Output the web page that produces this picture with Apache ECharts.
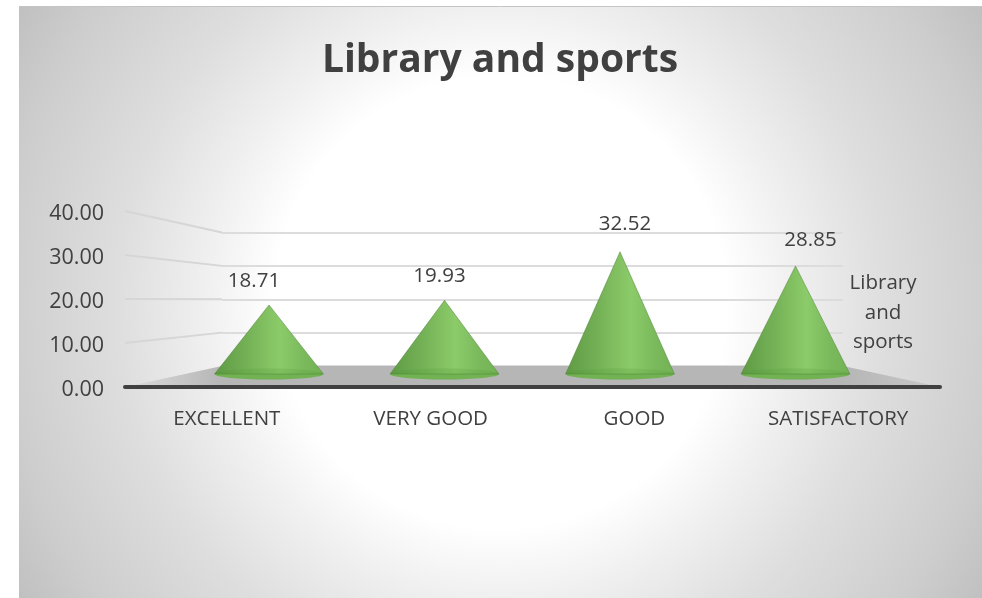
<!DOCTYPE html>
<html>
<head>
<meta charset="utf-8">
<style>html,body{margin:0;padding:0;background:#fff}#c{width:982px;height:598px}</style>
<script src="https://cdn.jsdelivr.net/npm/echarts@6/dist/echarts.min.js"></script>
</head>
<body>
<div id="c"></div>
<script>
const categories = ['EXCELLENT', 'VERY GOOD', 'GOOD', 'SATISFACTORY'];
const values = [18.71, 19.93, 32.52, 28.85];
const valueTicks = [0, 10, 20, 30, 40];
const seriesName = 'Library and sports';

const FONT = '"Open Sans","Noto Sans",sans-serif';
const INK = '#404040';
const labelSize = 20.5;
// per-label nudge of the data labels relative to their cone tips (style only)
const labelNudge = [[-15, -24], [-5, -24], [5, -28], [15, -26]];

const chart = echarts.init(document.getElementById('c'), null, {renderer: 'canvas'});

const coneFill = new echarts.graphic.LinearGradient(0, 0, 1, 0, [
  {offset: 0, color: '#5d9a43'},
  {offset: 0.25, color: '#70ad53'},
  {offset: 0.6, color: '#8ccb69'},
  {offset: 0.8, color: '#7cbb5d'},
  {offset: 1, color: '#72b154'}
]);

function renderCone(params, api) {
  const i = api.value(0);
  const v = api.value(1);
  const tip = api.coord([i, v]);
  const base = api.coord([i, 0]);
  const hw = api.size([1, 0])[0] * 0.31;
  const baseY = base[1] - 3;
  const ry = 5.5;
  const nudge = labelNudge[i];
  return {
    type: 'group',
    children: [
      {type: 'ellipse', shape: {cx: base[0], cy: baseY, rx: hw, ry: ry},
       style: {fill: '#7aba5c'}, z2: 1},
      {type: 'polygon', shape: {points: [[base[0], tip[1]], [base[0] - hw, baseY], [base[0] + hw, baseY]]},
       style: {fill: coneFill, stroke: 'rgba(70,120,50,0.45)', lineWidth: 1}, z2: 2},
      {type: 'ellipse', shape: {cx: base[0], cy: baseY, rx: hw, ry: ry},
       style: {fill: 'rgba(85,150,55,0.22)'}, z2: 3},
      {type: 'text', style: {x: base[0] + nudge[0], y: tip[1] + nudge[1], text: v.toFixed(2), fill: INK,
        font: labelSize + 'px ' + FONT, textAlign: 'center', textVerticalAlign: 'middle'}, z2: 4}
    ]
  };
}

function renderWall(params, api) {
  const v = api.value(0);
  if (v === 0) return null;
  const front = api.coord([0, v]);
  const back = chart.convertToPixel({xAxisIndex: 3, yAxisIndex: 1}, [0, v]);
  return {type: 'line', shape: {x1: front[0], y1: front[1], x2: back[0], y2: back[1]},
    style: {stroke: '#d6d6d6', lineWidth: 2, fill: null}};
}

function renderFloor(params, api) {
  const fl = api.coord([0, 0]), fr = api.coord([1, 0]);
  const bl = chart.convertToPixel({xAxisIndex: 3, yAxisIndex: 1}, [0, 0]);
  const br = chart.convertToPixel({xAxisIndex: 3, yAxisIndex: 1}, [1, 0]);
  return {type: 'polygon', shape: {points: [fl, bl, br, fr]},
    style: {fill: new echarts.graphic.LinearGradient(0, 0, 1, 0, [
      {offset: 0, color: '#dcdcdc'}, {offset: 0.12, color: '#b6b6b6'},
      {offset: 0.88, color: '#b6b6b6'}, {offset: 1, color: '#c8c8c8'}])}};
}

chart.setOption({
  animation: false,
  graphic: [
    {type: 'rect', z: -10, silent: true, shape: {x: 19, y: 7, width: 963, height: 591},
     style: {fill: new echarts.graphic.RadialGradient(0.5, 0.5, 0.956, [
       {offset: 0, color: '#ffffff'}, {offset: 0.4, color: '#ffffff'},
       {offset: 0.52, color: '#f0f0f0'}, {offset: 0.68, color: '#dedede'},
       {offset: 0.885, color: '#cdcdcd'}, {offset: 1, color: '#c0c0c0'}])}},
    {type: 'line', z: -9, silent: true, shape: {x1: 19, y1: 6.5, x2: 982, y2: 6.5}, style: {stroke: '#c4c4c4', lineWidth: 1}}
  ],
  title: {text: seriesName, left: 495, top: 36, textAlign: 'center',
    textStyle: {fontFamily: FONT, fontSize: 39, fontWeight: 'bold', color: INK}},
  legend: {right: 59, top: 268, orient: 'vertical', itemWidth: 0, itemHeight: 0, icon: 'rect',
    selectedMode: false, data: [seriesName],
    formatter: () => '{c|Library}\n{c|and}\n{c|sports}',
    textStyle: {fontFamily: FONT, fontSize: labelSize, color: INK,
      rich: {c: {width: 70, align: 'center', fontFamily: FONT, fontSize: labelSize, color: INK, lineHeight: 29.5}}}},
  grid: [
    {left: 125, width: 815, top: 211, height: 176},
    {left: 222, width: 621, top: 232.5, height: 133.5},
    {left: 181.25, width: 702, top: 223, height: 154},
    {left: 125, width: 815, top: 214, height: 176}
  ],
  xAxis: [
    {gridIndex: 0, type: 'category', data: categories, axisTick: {show: false}, z: 3,
     axisLine: {lineStyle: {color: '#404040', width: 4, cap: 'round'}},
     axisLabel: {margin: 22, fontFamily: FONT, fontSize: labelSize, color: INK}},
    {gridIndex: 1, type: 'category', data: categories, show: false},
    {gridIndex: 0, type: 'value', min: 0, max: 1, show: false, position: 'top'},
    {gridIndex: 1, type: 'value', min: 0, max: 1, show: false, position: 'top'},
    {gridIndex: 2, type: 'category', data: categories, show: false},
    {gridIndex: 3, type: 'category', data: categories, show: false}
  ],
  yAxis: [
    {gridIndex: 0, type: 'value', min: 0, max: 40, interval: 10, show: false, splitLine: {show: false}},
    {gridIndex: 1, type: 'value', min: 0, max: 40, interval: 10, axisLine: {show: false}, axisTick: {show: false},
     axisLabel: {show: false}, splitLine: {lineStyle: {color: '#dcdcdc', width: 2}}},
    {gridIndex: 2, type: 'value', min: 0, max: 40, interval: 10, show: false, splitLine: {show: false}},
    {gridIndex: 3, type: 'value', min: 0, max: 40, interval: 10, splitLine: {show: false},
     axisLine: {show: false}, axisTick: {show: false},
     axisLabel: {margin: 21, fontFamily: FONT, fontSize: 21.5, color: INK, formatter: v => v.toFixed(2)}}
  ],
  series: [
    {type: 'custom', name: 'walls', silent: true, xAxisIndex: 2, yAxisIndex: 0, z: 1,
     data: valueTicks.map(v => [v]), encode: {x: -1, y: 0}, renderItem: renderWall},
    {type: 'custom', name: 'floor', silent: true, xAxisIndex: 2, yAxisIndex: 0, z: 1,
     data: [[0, 0]], renderItem: renderFloor},
    {type: 'custom', name: seriesName, xAxisIndex: 4, yAxisIndex: 2, z: 5, clip: false,
     itemStyle: {color: '#70ad47'},
     data: values.map((v, i) => [i, v]), encode: {x: 0, y: 1}, renderItem: renderCone}
  ]
});
</script>
</body>
</html>
